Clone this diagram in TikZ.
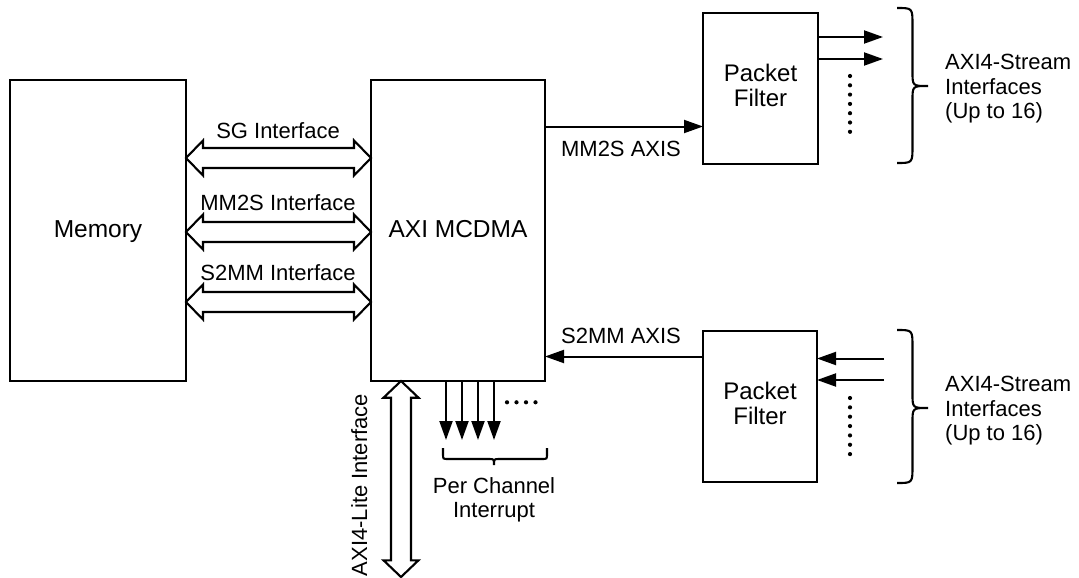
\documentclass[tikz,border=0pt]{standalone}
\usepackage{fontspec}
\setmainfont{Liberation Sans}
\usetikzlibrary{arrows.meta,calc}
\newcommand\RightBrace[4]{% x0, ytop, ybot, ymid
  \draw[brc] (#1,#2) .. controls ({#1+15.5},#2) .. ({#1+15.5},{#2+17})
    -- ({#1+15.5},{#4-14}) .. controls ({#1+15.5},#4) .. ({#1+31},#4)
    .. controls ({#1+15.5},#4) .. ({#1+15.5},{#4+14})
    -- ({#1+15.5},{#3-17}) .. controls ({#1+15.5},#3) .. (#1,#3);}
\newcommand\HollowH[1]{% row coordinate
  \draw[hollow] (mem.east |- #1) -- ++(17,-17.5) -- ++(0,7.5)
    -- ($(dma.west |- #1)+(-17,-10)$) -- ++(0,-7.5) -- (dma.west |- #1)
    -- ++(-17,17.5) -- ++(0,-7.5) -- ($(mem.east |- #1)+(17,10)$)
    -- ++(0,7.5) -- cycle;}
\begin{document}
\begin{tikzpicture}[x=1pt,y=-1pt,
  box/.style={draw,line width=2.1pt,inner sep=0pt,outer sep=0pt},
  bigtext/.style={font=\fontsize{24.5}{27}\selectfont,text height=18pt,text depth=5pt},
  pftext/.style={inner sep=0pt,align=center,font=\fontsize{24}{25}\selectfont},
  lbl/.style={inner sep=0pt,font=\fontsize{22}{24.5}\selectfont},
  conn/.style={line width=2pt,-{Triangle[length=19pt,width=13pt]}},
  hollow/.style={line width=2.1pt,line join=miter},
  brc/.style={line width=2.1pt},
  smalldot/.style={fill=black}]
\useasboundingbox (0,0) rectangle (1079,578);

% boxes
\node[box,bigtext,minimum width=176pt,minimum height=301pt] (mem) at (98,230.5) {Memory};
\node[box,bigtext,minimum width=174pt,minimum height=301pt] (dma) at (458,230.5) {AXI MCDMA};
\node[box,minimum width=115pt,minimum height=151pt] (pf1) at (760.5,88.5) {};
\node[box,minimum width=114pt,minimum height=151pt] (pf2) at (760,406.5) {};
\node[pftext] (pf1t) at ($(pf1.center)+(0,-3)$) {Packet\\Filter};
\node[pftext] (pf2t) at ($(pf2.center)+(0,-3)$) {Packet\\Filter};

% memory <-> dma interfaces
\coordinate (r1) at (0,158);
\coordinate (r2) at (0,232);
\coordinate (r3) at (0,302);
\HollowH{r1}
\HollowH{r2}
\HollowH{r3}
\node[lbl,anchor=base] (sgl) at (278,138) {SG Interface};
\node[lbl,anchor=base] (mml) at (278,210) {MM2S Interface};
\node[lbl,anchor=base] (s2l) at (278,280.5) {S2MM Interface};

% AXI4-Lite
\coordinate (lite) at (401,577);
\draw[hollow] (dma.south -| lite) -- ++(17.5,16.7) -- ++(-7.5,0)
  -- ($(lite)+(10,-16.7)$) -- ++(7.5,0) -- (lite) -- ++(-17.5,-16.7)
  -- ++(7.5,0) -- ($(dma.south -| lite)+(-10,16.7)$) -- ++(-7.5,0) -- cycle;
\node[lbl,rotate=90,anchor=base] (litel) at (367,485) {AXI4-Lite Interface};

% interrupts
\foreach \x [count=\i] in {446,462,478,494}{
  \coordinate (q\i) at (\x,440);
  \draw[conn] (dma.south -| q\i) -- (q\i);
}
\foreach \x in {507,516.5,526,535.5}{\fill[smalldot] (\x,402.3) circle (2.1pt);}
\draw[brc] (443,448) -- (443,454) .. controls (443,459) .. (448,459) -- (489,459)
  .. controls (494,459) .. (494,465) .. controls (494,459) .. (499,459)
  -- (542,459) .. controls (547,459) .. (547,454) -- (547,448);
\node[lbl,align=center] (pcl) at (494,500) {Per Channel\\Interrupt};

% AXIS connections
\coordinate (ma) at (0,126.5);
\draw[conn] (dma.east |- ma) -- (pf1.west |- ma);
\node[lbl,anchor=base] (mal) at (621,156) {MM2S AXIS};
\coordinate (sa) at (0,356.5);
\draw[conn] (pf2.west |- sa) -- (dma.east |- sa);
\node[lbl,anchor=base] (sal) at (621,343) {S2MM AXIS};

% upper stream outputs
\coordinate (o1) at (883,37);
\coordinate (o2) at (883,59);
\draw[conn] (pf1.east |- o1) -- (o1);
\draw[conn] (pf1.east |- o2) -- (o2);
\foreach \k in {0,...,6}{\fill[smalldot] (850,{76+9.3*\k}) circle (2.1pt);}
\RightBrace{897}{8}{163}{86}
\node[lbl,align=left,anchor=west] (st1) at (945,89) {AXI4-Stream\\Interfaces\\(Up to 16)};

% lower stream inputs
\coordinate (i1) at (884,358.5);
\coordinate (i2) at (884,380);
\draw[conn] (i1) -- (pf2.east |- i1);
\draw[conn] (i2) -- (pf2.east |- i2);
\foreach \k in {0,...,6}{\fill[smalldot] (850,{398+9.35*\k}) circle (2.1pt);}
\RightBrace{897}{330}{483}{408}
\node[lbl,align=left,anchor=west] (st2) at (945,411) {AXI4-Stream\\Interfaces\\(Up to 16)};
\end{tikzpicture}
\end{document}
